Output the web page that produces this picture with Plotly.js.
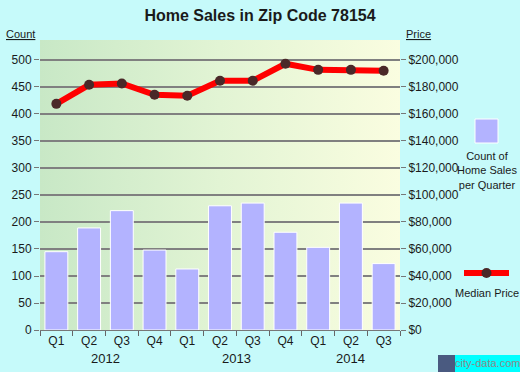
<!DOCTYPE html>
<html>
<head>
<meta charset="utf-8">
<script src="https://cdn.plot.ly/plotly-3.0.1.min.js"></script>
<style>
  html, body { margin: 0; padding: 0; background: #C6FAFA; }
  #chart { width: 520px; height: 372px; }
</style>
</head>
<body>
<div id="chart"></div>
<script>
// ---- Data ----
const quarters = ["Q1", "Q2", "Q3", "Q4", "Q1", "Q2", "Q3", "Q4", "Q1", "Q2", "Q3"];
const years = [2012, 2012, 2012, 2012, 2013, 2013, 2013, 2013, 2014, 2014, 2014];
const salesCount = [145, 189, 221, 148, 113, 230, 235, 181, 153, 235, 123];
const medianPrice = [167500, 181600, 182600, 174200, 173500, 184600, 184600, 197200, 192700, 192700, 192000];
const countTicks = [0, 50, 100, 150, 200, 250, 300, 350, 400, 450, 500];
const priceTicks = [0, 20000, 40000, 60000, 80000, 100000, 120000, 140000, 160000, 180000, 200000];
const priceTickLabels = ["$0", "$20,000", "$40,000", "$60,000", "$80,000", "$100,000", "$120,000", "$140,000", "$160,000", "$180,000", "$200,000"];
const yearLabels = [2012, 2013, 2014];

// ---- Layout helpers ----
const W = 520, H = 372;
const M = { l: 40, r: 120, t: 40, b: 42 };
const PW = W - M.l - M.r, PH = H - M.t - M.b;
const px = x => (x - M.l) / PW;          // pixel -> paper x
const py = y => (H - M.b - y) / PH;      // pixel -> paper y

const COUNT_MAX = 537;
const PRICE_PER_COUNT = 400;

const cats = quarters.map((q, i) => q + " " + years[i]);

const textColor = "#1a1a1a";
const font = "Liberation Sans, Arial, sans-serif";

const barTrace = {
  type: "bar",
  x: cats,
  y: salesCount,
  width: 0.7,
  marker: { color: "#B3B3FF", line: { color: "#FFFFFF", width: 1 } },
  yaxis: "y"
};

const lineTrace = {
  type: "scatter",
  mode: "lines+markers",
  x: cats,
  y: medianPrice,
  line: { color: "#FF0000", width: 6 },
  marker: { color: "#4A2828", size: 10 },
  yaxis: "y2"
};

// Year annotations centered under their quarters
const yearAnns = yearLabels.map(yr => {
  const idx = years.map((y, i) => (y === yr ? i : -1)).filter(i => i >= 0);
  const mid = idx.reduce((a, b) => a + b, 0) / idx.length;
  return {
    x: mid, xref: "x", y: py(358), yref: "paper",
    text: String(yr), showarrow: false,
    font: { family: font, size: 13, color: textColor },
    xanchor: "center", yanchor: "middle"
  };
});

const gradSvg = '<svg xmlns="http://www.w3.org/2000/svg" width="100" height="100" preserveAspectRatio="none">' +
  '<defs><linearGradient id="g" x1="0" y1="0" x2="1" y2="0">' +
  '<stop offset="0" stop-color="#C8E8C6"/><stop offset="0.5" stop-color="#E2F4D4"/><stop offset="1" stop-color="#FAFDE0"/>' +
  '</linearGradient></defs><rect width="100" height="100" fill="url(#g)"/></svg>';

const layout = {
  width: W, height: H,
  margin: M,
  paper_bgcolor: "#C6FAFA",
  plot_bgcolor: "rgba(0,0,0,0)",
  showlegend: false,
  bargap: 0.3,
  title: {
    text: "<b>Home Sales in Zip Code 78154</b>",
    font: { family: font, size: 16, color: textColor },
    x: 0.5, xref: "container", xanchor: "center",
    y: 1 - 15 / H, yref: "container", yanchor: "middle"
  },
  xaxis: {
    type: "category",
    tickvals: cats,
    ticktext: quarters,
    tickson: "boundaries",
    ticks: "outside", ticklen: 5, tickcolor: "#666",
    showline: true, linecolor: "#777", linewidth: 1,
    showgrid: false, zeroline: false,
    tickfont: { family: font, size: 12, color: textColor },
    range: [-0.5, cats.length - 0.5]
  },
  yaxis: {
    range: [0, COUNT_MAX],
    tickvals: countTicks,
    ticks: "outside", ticklen: 5, tickcolor: "#777",
    showgrid: true, gridcolor: "#808080", gridwidth: 1.3,
    showline: false,
    zeroline: false,
    tickfont: { family: font, size: 12, color: textColor }
  },
  yaxis2: {
    overlaying: "y", side: "right",
    range: [0, COUNT_MAX * PRICE_PER_COUNT],
    tickvals: priceTicks,
    ticktext: priceTickLabels,
    ticks: "outside", ticklen: 5, tickcolor: "#777",
    showgrid: false, zeroline: false,
    showline: false,
    tickfont: { family: font, size: 12, color: textColor }
  },
  images: [{
    source: "data:image/svg+xml;charset=utf-8," + encodeURIComponent(gradSvg),
    xref: "paper", yref: "paper", x: 0, y: 1, sizex: 1, sizey: 1,
    sizing: "stretch", xanchor: "left", yanchor: "top", layer: "below"
  }],
  shapes: [
    // legend swatch for bars
    { type: "rect", xref: "paper", yref: "paper", x0: px(475), x1: px(498), y0: py(143), y1: py(119),
      fillcolor: "#B3B3FF", line: { color: "#FFFFFF", width: 1 } },
    // legend line for median price
    { type: "line", xref: "paper", yref: "paper", x0: px(464), x1: px(509), y0: py(273), y1: py(273),
      line: { color: "#FF0000", width: 6 } },
    { type: "circle", xref: "paper", yref: "paper", x0: px(481.5), x1: px(491.5), y0: py(278), y1: py(268),
      fillcolor: "#4A2828", line: { width: 0 } },
    // logo
    { type: "rect", xref: "paper", yref: "paper", x0: px(438), x1: px(455), y0: py(372), y1: py(355),
      fillcolor: "#4A5A80", line: { width: 0 } },
    { type: "rect", xref: "paper", yref: "paper", x0: px(455), x1: px(520), y0: py(372), y1: py(355),
      fillcolor: "#00FFFF", line: { width: 0 } }
  ],
  annotations: [
    { x: px(20), y: py(34), xref: "paper", yref: "paper", text: "<u>Count</u>", showarrow: false,
      font: { family: font, size: 11, color: textColor }, xanchor: "center", yanchor: "middle" },
    { x: px(418), y: py(34), xref: "paper", yref: "paper", text: "<u>Price</u>", showarrow: false,
      font: { family: font, size: 11, color: textColor }, xanchor: "center", yanchor: "middle" },
    { x: px(487), y: py(170), xref: "paper", yref: "paper",
      text: "Count of<br>Home Sales<br>per Quarter", showarrow: false, align: "center",
      font: { family: font, size: 11, color: textColor }, xanchor: "center", yanchor: "middle" },
    { x: px(487), y: py(293), xref: "paper", yref: "paper", text: "Median Price", showarrow: false,
      font: { family: font, size: 11, color: textColor }, xanchor: "center", yanchor: "middle" },
    { x: px(487), y: py(363), xref: "paper", yref: "paper", text: "city-data.com", showarrow: false,
      font: { family: font, size: 11, color: "#8A8A8A" }, xanchor: "center", yanchor: "middle",
      borderpad: 0 }
  ].concat(yearAnns)
};

Plotly.newPlot("chart", [barTrace, lineTrace], layout, { displayModeBar: false, staticPlot: true });
</script>
</body>
</html>
